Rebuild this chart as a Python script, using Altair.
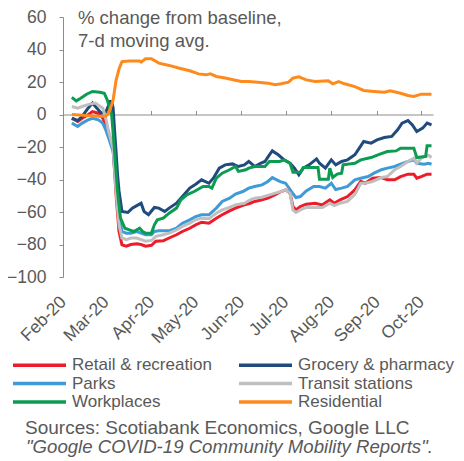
import altair as alt
import pandas as pd

FONT = "Liberation Sans"
TEXT = "#595959"
AXIS = "#8C8C8C"

SERIES = ["Retail & recreation", "Grocery & pharmacy", "Parks",
          "Transit stations", "Workplaces", "Residential"]
COLORS = ["#EC1C2A", "#1F4B7D", "#3F9BD6", "#BFBFBF", "#0B9C52", "#FF8A1C"]
# legend fills column by column: left column first, then right column
LEGEND_ORDER = ["Retail & recreation", "Parks", "Workplaces",
                "Grocery & pharmacy", "Transit stations", "Residential"]

retail_dates = ["02-21", "02-25", "02-28", "03-03", "03-06", "03-10", "03-13", "03-15", "03-17", "03-20",
                "03-22", "03-24", "03-26", "03-29", "04-01", "04-05", "04-08", "04-11", "04-15", "04-18",
                "04-23", "04-27", "05-02", "05-06", "05-11", "05-15", "05-19", "05-24", "05-29", "06-02",
                "06-07", "06-11", "06-17", "06-21", "06-24", "06-29", "07-03", "07-08", "07-12", "07-15",
                "07-18", "07-20", "07-22", "07-25", "07-29", "08-04", "08-09", "08-14", "08-17", "08-21",
                "08-26", "08-31", "09-04", "09-07", "09-12", "09-18", "09-22", "09-27", "10-01", "10-06",
                "10-10", "10-12", "10-15", "10-19", "10-22"]
retail_vals = [-2.3, -4.3, -2.3, -0.2, 1.8, 0.8, -2.3, -6.4, -11.5, -20.7,
               -49.4, -72, -80.2, -81, -80, -79.6, -80, -81, -80.5, -78,
               -77.7, -76, -74, -72, -70, -67.9, -66.3, -66.9, -63.8, -61.7,
               -59.3, -57.6, -55.6, -54.6, -53.5, -52.5, -51.5, -49.4, -47.4, -46.4,
               -48.4, -56.6, -58.7, -56.6, -55.2, -54.6, -55.6, -52.5, -54.6, -52.5,
               -50.5, -46.4, -41.2, -42.3, -39.2, -38.8, -40.2, -40.2, -38.2, -36.7,
               -36.7, -39.2, -38.2, -36.7, -36.7]

grocery_dates = ["02-21", "02-25", "02-28", "03-03", "03-06", "03-08", "03-12", "03-15", "03-18", "03-19",
                 "03-20", "03-21", "03-22", "03-23", "03-24", "03-26", "03-30", "04-02", "04-06", "04-08",
                 "04-10", "04-13", "04-17", "04-20", "04-24", "04-27", "05-02", "05-06", "05-11", "05-15",
                 "05-19", "05-24", "05-27", "05-31", "06-04", "06-09", "06-13", "06-17", "06-20", "06-24",
                 "06-28", "07-01", "07-04", "07-06", "07-10", "07-14", "07-18", "07-21", "07-24", "07-27",
                 "07-31", "08-05", "08-07", "08-11", "08-15", "08-18", "08-22", "08-26", "08-31", "09-03",
                 "09-06", "09-11", "09-15", "09-20", "09-25", "09-29", "10-02", "10-06", "10-09", "10-12",
                 "10-16", "10-19", "10-22"]
grocery_vals = [-2.3, -3.7, -1.2, 3.9, 7, 4.9, 0.8, 1.4, 8, 8,
                4, -10, -23, -37, -47, -59.7, -60.3, -57.6, -55.6, -54.6,
                -59.7, -61.7, -57.2, -57.6, -59.7, -57.6, -54.6, -50.5, -45.3, -42.9,
                -40.2, -42.3, -39.2, -33, -31, -30.4, -32, -31, -28.9, -32,
                -30, -28.9, -24.8, -22.4, -24.8, -27.9, -30, -33, -37.1, -33,
                -31, -27.3, -30, -33, -27.9, -31, -28.9, -27.9, -24.8, -20.7,
                -16.6, -17.6, -15.6, -14.2, -13.5, -9.4, -5.3, -3.7, -6.4, -10.5,
                -8.4, -5.3, -6.4]

parks_dates = ["02-21", "02-25", "02-28", "03-03", "03-06", "03-10", "03-13", "03-15", "03-17", "03-20",
               "03-22", "03-24", "03-26", "03-29", "04-01", "04-05", "04-08", "04-11", "04-15", "04-17",
               "04-20", "04-27", "05-02", "05-06", "05-11", "05-15", "05-19", "05-24", "05-29", "06-02",
               "06-07", "06-11", "06-16", "06-20", "06-24", "06-29", "07-03", "07-06", "07-11", "07-15",
               "07-19", "07-22", "07-25", "07-29", "08-03", "08-07", "08-11", "08-15", "08-18", "08-22",
               "08-26", "08-31", "09-04", "09-09", "09-13", "09-18", "09-22", "09-27", "10-01", "10-06",
               "10-10", "10-12", "10-17", "10-20", "10-22"]
parks_vals = [-5.3, -7.4, -5.3, -3.3, -2.3, -3.3, -5.3, -9.4, -14.6, -22.8,
              -43.3, -61.7, -72, -73, -73, -72, -73, -74, -74, -72,
              -71.6, -71.6, -70, -66.9, -64.8, -62.8, -61.7, -61.7, -57.6, -53.5,
              -51.5, -49, -47.4, -45.3, -44.3, -43.3, -41.2, -38.8, -41.2, -42.3,
              -47.4, -51.1, -50.5, -47, -44.3, -44.3, -45.3, -42.3, -46.2, -45.3,
              -44.3, -40.2, -39.2, -38.2, -36.1, -34, -33, -32, -30.6, -28.9,
              -27.9, -30, -30.6, -30, -30.6]

transit_dates = ["02-21", "02-25", "02-28", "03-04", "03-08", "03-13", "03-15", "03-17", "03-20", "03-22",
                 "03-24", "03-26", "03-29", "04-01", "04-05", "04-08", "04-11", "04-15", "04-18", "04-23",
                 "04-27", "05-02", "05-06", "05-11", "05-15", "05-19", "05-24", "05-29", "06-02", "06-07",
                 "06-11", "06-17", "06-21", "06-24", "06-29", "07-03", "07-08", "07-12", "07-15", "07-18",
                 "07-20", "07-22", "07-25", "07-29", "08-04", "08-09", "08-14", "08-17", "08-21", "08-26",
                 "08-31", "09-04", "09-07", "09-12", "09-18", "09-22", "09-27", "10-01", "10-06", "10-10",
                 "10-12", "10-15", "10-17", "10-20", "10-22"]
transit_vals = [4.9, 3.9, 4.9, 6.4, 7, 3.9, -2.3, -10.5, -20.7, -47.4,
                -67.9, -76, -77, -76, -76, -77, -78, -77.5, -75, -74,
                -73, -71, -68.9, -66.9, -64.8, -63.8, -64.2, -60.7, -58.7, -57.2,
                -55.6, -54.6, -52.5, -51.5, -50.9, -49.8, -48.4, -47.4, -46.4, -48.4,
                -58.7, -60.3, -58.7, -57.2, -57.2, -57.2, -54.6, -56, -54.6, -53.5,
                -49.2, -42.3, -42.3, -41.2, -38.8, -38.2, -34, -32, -28.9, -26.9,
                -30, -26.9, -25.8, -25.2, -26.5]

work_dates = ["02-21", "02-24", "02-27", "03-02", "03-06", "03-11", "03-14", "03-16", "03-19", "03-21",
              "03-23", "03-25", "03-28", "03-31", "04-03", "04-07", "04-09", "04-11", "04-15", "04-17",
              "04-19", "04-23", "04-27", "05-02", "05-05", "05-09", "05-14", "05-20", "05-24", "05-26",
              "05-29", "06-02", "06-07", "06-11", "06-13", "06-18", "06-20", "06-24", "07-01", "07-04",
              "07-11", "07-14", "07-18", "07-20", "07-25", "07-27", "08-06", "08-07", "08-13", "08-14",
              "08-16", "08-19", "08-22", "08-23", "08-31", "09-04", "09-11", "09-17", "09-22", "09-28",
              "10-01", "10-10", "10-12", "10-18", "10-19", "10-22"]
work_vals = [10.5, 8.4, 10, 12.5, 14.2, 13.7, 13.1, 9, 0, -22.8,
             -47.4, -63.8, -70, -71, -72, -70, -72, -73, -73, -67.9,
             -64.8, -63.8, -60.7, -57.6, -52.5, -49.4, -47.4, -44.3, -44.3, -45.3,
             -39.2, -36.1, -34, -32, -35, -34, -33, -32, -32, -28.9,
             -28.9, -27.9, -30, -35.5, -35.5, -32.6, -32.6, -39.8, -39.8, -33,
             -38.8, -36.7, -36.1, -31, -30, -27.9, -26.5, -24.4, -22.8, -22.4,
             -20.7, -20.7, -26.5, -25.8, -19.3, -19.3]

resid_dates = ["02-21", "02-28", "03-08", "03-15", "03-17", "03-19", "03-20", "03-22", "03-24", "03-26",
               "03-31", "04-07", "04-08", "04-11", "04-15", "04-20", "04-27", "05-04", "05-11", "05-17",
               "05-22", "05-25", "05-29", "06-04", "06-11", "06-15", "06-20", "06-26", "07-03", "07-08",
               "07-12", "07-17", "07-20", "07-24", "07-29", "08-04", "08-13", "08-16", "08-20", "08-24",
               "08-31", "09-06", "09-13", "09-20", "09-24", "10-01", "10-06", "10-10", "10-15", "10-22"]
resid_vals = [0, -0.5, -1, -1, 1, 6, 9, 21, 28, 32.5,
              33, 33, 32.2, 34.3, 34.3, 31.6, 30.2, 28.5, 26.9, 25,
              24.4, 25, 23.4, 22.4, 21.1, 20.3, 20.3, 19.9, 19.3, 18.3,
              18.9, 19.9, 22.4, 23.2, 21.3, 20.3, 20.7, 18.9, 20.3, 18.9,
              17.2, 14.8, 14.2, 13.7, 14.6, 13.1, 11.7, 11.1, 12.5, 12.5]

TICK_MONTHS = [2, 3, 4, 5, 6, 7, 8, 9, 10]
Y_TICKS = [60, 40, 20, 0, -20, -40, -60, -80, -100]
TITLE_LINES = ["% change from baseline,", "7-d moving avg."]
SOURCE_LINES = ["Sources: Scotiabank Economics, Google LLC",
                "\"Google COVID-19 Community Mobility Reports\"."]

W, H = 370, 260
Y_MIN, Y_MAX = -100, 60

frames = []
for name, dates, vals in zip(SERIES,
                             [retail_dates, grocery_dates, parks_dates, transit_dates, work_dates, resid_dates],
                             [retail_vals, grocery_vals, parks_vals, transit_vals, work_vals, resid_vals]):
    assert len(dates) == len(vals), name
    frames.append(pd.DataFrame({"date": pd.to_datetime(["2020-" + d for d in dates]),
                                "value": vals, "series": name}))
df = pd.concat(frames, ignore_index=True)

color_of = dict(zip(SERIES, COLORS))
legend_colors = [color_of[s] for s in LEGEND_ORDER]

x_start = alt.DateTime(year=2020, month=2, date=15)
x_end = alt.DateTime(year=2020, month=10, date=23)
tick_values = [alt.DateTime(year=2020, month=m, date=15) for m in TICK_MONTHS]
x_scale = alt.Scale(domain=[x_start, x_end])
y_scale = alt.Scale(domain=[Y_MIN, Y_MAX], nice=False, zero=False)

y_axis = alt.Axis(values=Y_TICKS, grid=False, tickSize=4, tickColor=AXIS,
                  domainColor=AXIS, labelPadding=13, labelFontSize=17.5,
                  labelOverlap=False, labelFont=FONT, labelColor=TEXT)

lines = alt.Chart(df).mark_line(strokeWidth=3).encode(
    x=alt.X("date:T", scale=x_scale, title=None,
            axis=alt.Axis(values=tick_values, format="%b-%y", labelAngle=-45,
                          labelAlign="right", labelBaseline="middle", labelOverlap=False,
                          domain=False, ticks=False, grid=False, labelPadding=22,
                          labelFontSize=17.5, labelFont=FONT, labelColor=TEXT)),
    y=alt.Y("value:Q", scale=y_scale, title=None, axis=y_axis),
    color=alt.Color("series:N", scale=alt.Scale(domain=LEGEND_ORDER, range=legend_colors), title=None,
                    legend=alt.Legend(orient="none", legendX=-50, legendY=339.5, columns=2,
                                      symbolType="M-4,0H4", symbolSize=175.6,
                                      symbolStrokeWidth=3.5, symbolOffset=18, labelOffset=24,
                                      labelFontSize=17, labelFont=FONT, labelColor=TEXT,
                                      labelLimit=300, columnPadding=19, rowPadding=0.5)),
)

zero_offset = H * Y_MAX / (Y_MAX - Y_MIN)
zero_df = pd.DataFrame({"start": [pd.Timestamp("2020-02-15")], "end": [pd.Timestamp("2020-10-23")], "zero": [0]})
zero_axis = alt.Chart(zero_df).mark_rule(opacity=0).encode(
    x=alt.X("start:T", scale=x_scale, title=None,
            axis=alt.Axis(orient="top", offset=-zero_offset, values=tick_values, labels=False,
                          ticks=True, tickSize=4, tickColor=AXIS, domain=True,
                          domainColor=AXIS, grid=False)),
    x2="end:T",
    y=alt.Y("zero:Q", scale=y_scale, title=None, axis=y_axis),
)


def text_layer(text, x, y, size, italic=False):
    return alt.Chart(pd.DataFrame({"t": [text]})).mark_text(
        align="left", baseline="alphabetic", fontSize=size, font=FONT, color=TEXT,
        fontStyle="italic" if italic else "normal",
    ).encode(text="t:N", x=alt.value(x), y=alt.value(y))


t1 = text_layer(TITLE_LINES[0], 15, 7, 18.5)
t2 = text_layer(TITLE_LINES[1], 15, 29.5, 18.5)
s1 = text_layer(SOURCE_LINES[0], -38, 417, 19)
s2 = text_layer(SOURCE_LINES[1], -37, 436, 18.6, italic=True)

chart = alt.layer(zero_axis, lines, t1, t2, s1, s2).resolve_axis(x="independent").properties(
    width=W, height=H,
    autosize=alt.AutoSizeParams(type="none"),
    padding={"left": 55, "top": 9, "right": 23, "bottom": 180},
).configure_view(stroke=None).configure_axis(labelOverlap=False)

chart.save("out.html", embed_options={"renderer": "svg", "actions": False})
